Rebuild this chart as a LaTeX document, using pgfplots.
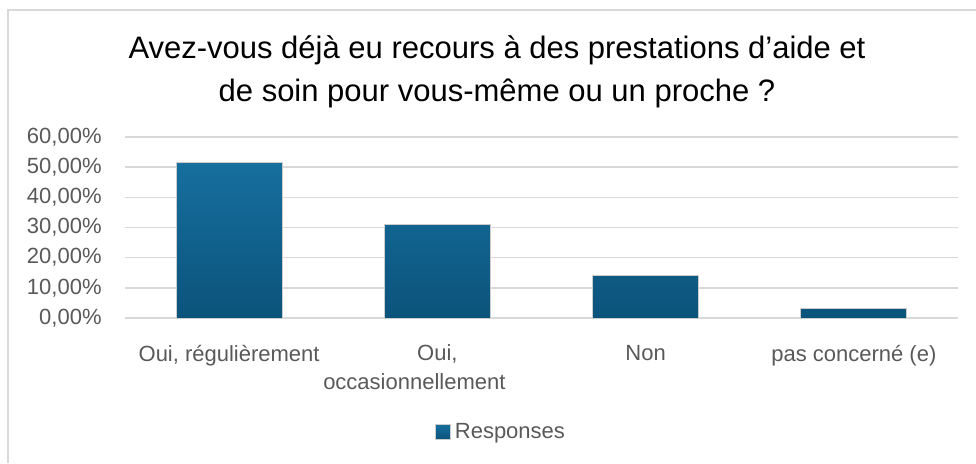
\documentclass[border=0pt]{standalone}
\usepackage{pgfplots}
\pgfplotsset{compat=1.18}
\usepackage{fontspec}
\setmainfont{Liberation Sans}
\definecolor{txtgray}{HTML}{595959}
\definecolor{gridgray}{HTML}{D9D9D9}
\definecolor{bartop}{HTML}{166F9E}
\definecolor{barbot}{HTML}{0B537B}

\begin{document}
\begin{tikzpicture}
% page size: 976x463 px at 0.5pt per px
\path[use as bounding box] (0,0) rectangle (488pt,231.5pt);
\draw[gridgray, line width=1pt] (4.2pt,0) -- (4.2pt,226.5pt) -- (488pt,226.5pt);

\node[align=center, font=\fontsize{15.5}{21.5}\selectfont, text=black]
  at (248.5pt,195.5pt) {Avez-vous déjà eu recours à des prestations d’aide et\\de soin pour vous-même ou un proche ?};

\begin{axis}[
  at={(62.5pt,72.5pt)}, anchor=south west,
  scale only axis,
  width=416.5pt, height=90.5pt,
  xmin=-0.5, xmax=3.5,
  ymin=0, ymax=60,
  xtick={0,1,2,3},
  xticklabels={{Oui, régulièrement},{Oui,\\occasionnellement\kern23pt},Non,pas concerné (e)},
  ytick={0,10,20,30,40,50,60},
  yticklabels={{0,00\%},{10,00\%},{20,00\%},{30,00\%},{40,00\%},{50,00\%},{60,00\%}},
  axis line style={draw=none},
  tick style={draw=none},
  ymajorgrids,
  grid style={gridgray, line width=0.75pt},
  yticklabel style={inner sep=0pt, xshift=-11.5pt, text=txtgray, font=\fontsize{11}{12}\selectfont},
  xticklabel style={inner sep=0pt, anchor=north, yshift=-9pt, align=center, text=txtgray, font=\fontsize{11}{14.5}\selectfont},
  ybar, bar width=53pt,
  legend style={at={(0.4526,-0.63)}, anchor=center, draw=none, fill=none,
    font=\fontsize{11}{12}\selectfont, text=txtgray},
]
\addplot[ybar, draw=gray!40, line width=0.4pt, top color=bartop, bottom color=barbot,
  legend image code/.code={\shade[top color=bartop, bottom color=barbot, draw=gray!40] (0pt,-3.75pt) rectangle (7.5pt,3.75pt);}]
  coordinates {(0,51.7)(1,31.1)(2,14.2)(3,3.3)};
\addlegendentry{Responses}
\end{axis}
\end{tikzpicture}
\end{document}
